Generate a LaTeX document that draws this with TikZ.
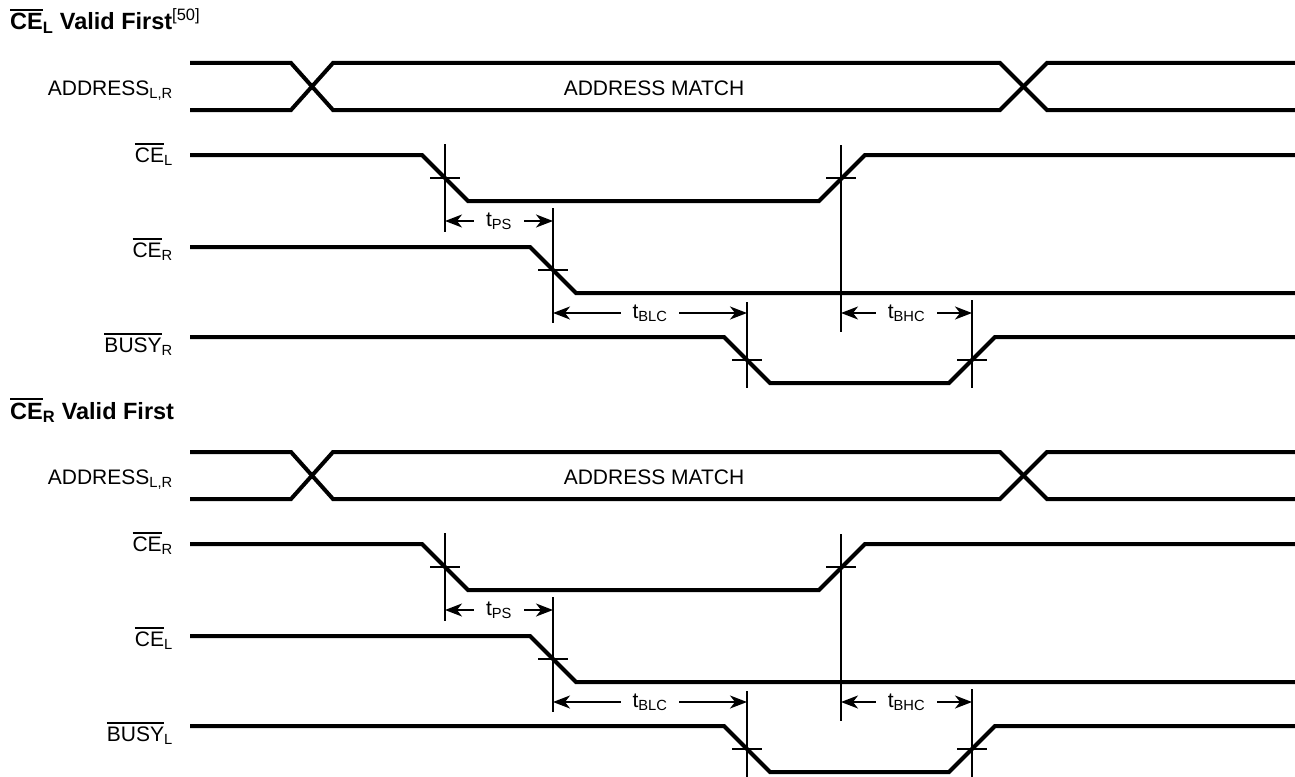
\documentclass[tikz,border=0pt]{standalone}
\usepackage{fontspec}
\setmainfont{Liberation Sans}
\usetikzlibrary{arrows.meta, calc}
\newcommand{\ovl}[1]{\vbox{\hrule height .08em\kern .12em\hbox{#1}}}
\newcommand{\edgemark}[3]{% crossing point, top and bottom of its guide
    \draw[guide] (#1 |- 0,#2) -- (#1 |- 0,#3);
    \draw[guide] ($(#1)+(-15,0)$) -- ($(#1)+(15,0)$);
}
\tikzset{
    sig/.style={line width=4pt, line join=miter},
    guide/.style={line width=1.6pt},
    span/.style={guide, {Stealth[length=17pt,width=13pt,inset=5pt]}-{Stealth[length=17pt,width=13pt,inset=5pt]}},
    tlabel/.style={fill=white, inner xsep=12pt, inner ysep=1pt},
    siglabel/.style={anchor=base east}
}

\begin{document}
\begin{tikzpicture}[x=1pt, y=-1pt, every node/.style={font=\fontsize{21}{25}\selectfont, inner sep=0pt}]
    \useasboundingbox (0,0) rectangle (1295,776);
    \foreach \s/\dy/\fa/\fb/\note in {1/0/L/R/{\textsuperscript{[50]}}, 2/389/R/L/{}}{
    \begin{scope}[yshift=-\dy pt]
    \node[anchor=base west, font=\fontsize{23.5}{28}\selectfont\bfseries] (title\s) at (10,30)
        {\ovl{CE}\textsubscript{\fa} Valid First{\mdseries\note}};
    % address bus
    \draw[sig] (190,63) -- (291,63) -- (333,110) -- (1000,110) -- (1047,63) -- (1295,63);
    \draw[sig] (190,110) -- (291,110) -- (333,63) -- (1000,63) -- (1047,110) -- (1295,110);
    \node[siglabel] (addr\s) at (173,95) {ADDRESS\textsubscript{L,R}};
    \node[anchor=base] (match\s) at (654,95) {ADDRESS MATCH};
    % enables and busy
    \draw[sig] (190,155) -- (422,155) -- (468,201) -- (819,201) -- (865,155) -- (1295,155);
    \draw[sig] (190,247) -- (530,247) -- (576,293) -- (1295,293);
    \draw[sig] (190,337) -- (724,337) -- (770,383) -- (949,383) -- (995,337) -- (1295,337);
    \node[siglabel] (cea\s) at (173,162) {\ovl{CE}\textsubscript{\fa}};
    \node[siglabel] (ceb\s) at (173,257) {\ovl{CE}\textsubscript{\fb}};
    \node[siglabel] (busy\s) at (173,352) {\ovl{BUSY}\textsubscript{\fb}};
    \coordinate (x\s-1) at (445,178);
    \coordinate (x\s-2) at (841,178);
    \coordinate (x\s-3) at (553,270);
    \coordinate (x\s-4) at (747,360);
    \coordinate (x\s-5) at (972,360);
    \edgemark{x\s-1}{144}{232}
    \edgemark{x\s-2}{145}{332}
    \edgemark{x\s-3}{208}{323}
    \edgemark{x\s-4}{302}{388}
    \edgemark{x\s-5}{300}{388}
    \draw[span] (x\s-1 |- 0,221) -- (x\s-3 |- 0,221) node[tlabel, midway] (tps\s) {t\textsubscript{PS}};
    \draw[span] (x\s-3 |- 0,313) -- (x\s-4 |- 0,313) node[tlabel, midway] (tblc\s) {t\textsubscript{BLC}};
    \draw[span] (x\s-2 |- 0,313) -- (x\s-5 |- 0,313) node[tlabel, midway] (tbhc\s) {t\textsubscript{BHC}};
    \end{scope}
    }
\end{tikzpicture}
\end{document}
